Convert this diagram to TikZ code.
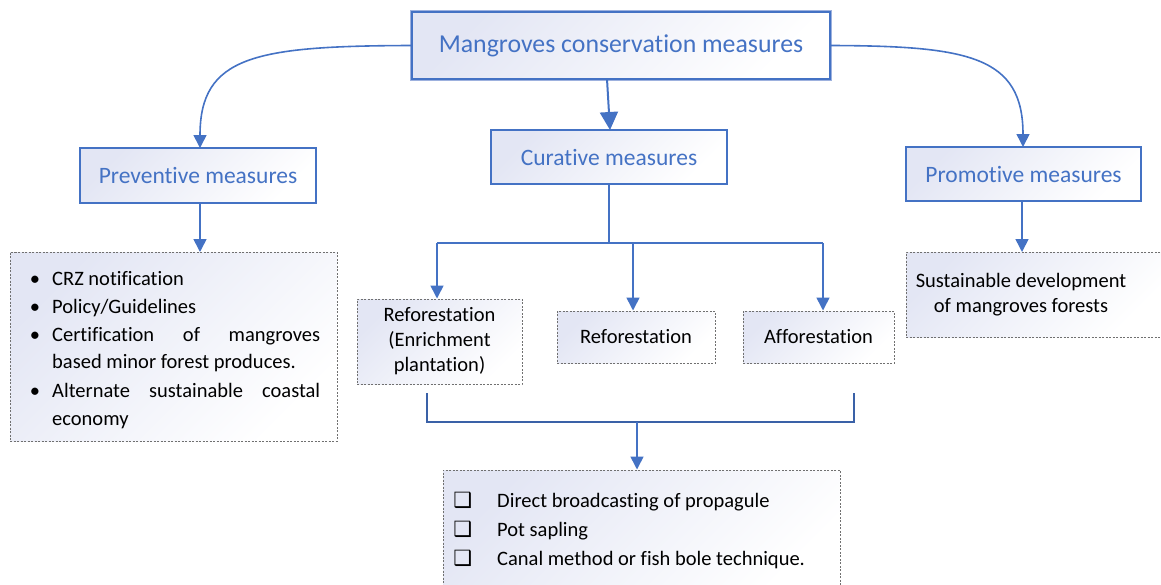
\documentclass[tikz,border=0pt]{standalone}
\usepackage{fontspec}
\setmainfont{Carlito}[Ligatures={NoCommon}]
\newfontfamily\symfont{DejaVu Sans}
\usetikzlibrary{arrows.meta}
\definecolor{mblue}{HTML}{4472C4}
\definecolor{mlblue}{HTML}{9DB1DE}
\definecolor{mlav}{HTML}{E3E6F4}
\definecolor{mgray}{HTML}{707070}
\tikzset{
  shadefill/.style={top color=mlav, bottom color=white, shading angle=45},
  headbox/.style={draw=mblue, line width=1.2pt, shadefill, text=mblue,
    font=\fontsize{23.5}{28}\selectfont, inner sep=0pt},
  dashbox/.style={draw=mgray, line width=1pt, dash pattern=on 2pt off 1.5pt,
    shadefill, inner sep=0pt, font=\fontsize{20.5}{25}\selectfont, align=center},
  link/.style={draw=mblue, line width=1.6pt, -{Triangle[width=13pt,length=13pt]}},
  bigl/.style={draw=mblue, line width=2pt, -{Triangle[width=18pt,length=18pt]}},
  plain/.style={draw=mblue, line width=1.6pt},
  bracket/.style={draw=mblue!85!black, line width=1.3pt},
  body/.style={font=\fontsize{20.5}{25}\selectfont, inner sep=0pt, anchor=base west},
}
\newcommand{\chkbox}{\llap{{\symfont\fontsize{21}{21}\selectfont ❑}\hspace{25pt}}}
\begin{document}
\begin{tikzpicture}[x=1pt,y=-1pt]
\useasboundingbox (0,0) rectangle (1161,584);
% boxes
\node[headbox, minimum width=418pt, minimum height=67pt, line width=2pt,
  preaction={draw=mlblue, line width=4pt}, font=\fontsize{25.8}{30}\selectfont]
  (top) at (621,45.5) {Mangroves conservation measures};
\node[headbox, minimum width=236pt, minimum height=55pt] (prev) at (198,175.5) {Preventive measures};
\node[headbox, minimum width=236pt, minimum height=54pt] (cur) at (609,157) {Curative measures};
\node[headbox, minimum width=235pt, minimum height=54pt] (prom) at (1023.5,174) {Promotive measures};

\node[dashbox, minimum width=327pt, minimum height=189pt] (list) at (173.5,346.5) {};
\node[dashbox, minimum width=256pt, minimum height=85pt] (sub) at (1034,294.5) {};
\node[dashbox, draw=none, top color=white, bottom color=white, fill opacity=0, text opacity=1] (subt) at (1021,295)
  {Sustainable development\\of mangroves forests};
\node[dashbox, minimum width=165pt, minimum height=85pt] (r1) at (439.5,341.5)
  {Reforestation\\(Enrichment\\plantation)};
\node[dashbox, minimum width=158pt, minimum height=52pt] (r2) at (636,337) {Reforestation};
\node[dashbox, minimum width=151pt, minimum height=52pt] (aff) at (818.5,337) {Afforestation};
\node[dashbox, minimum width=397pt, minimum height=124pt] (bot) at (641.5,532) {};

% list text
\node[body] (l1) at (52,285) {\llap{\textbullet\hspace{12pt}}CRZ notification};
\node[body] (l2) at (52,313) {\llap{\textbullet\hspace{12pt}}Policy/Guidelines};
\node[body] (l3) at (52,341) {\llap{\textbullet\hspace{12pt}}\makebox[268pt][s]{Certification of mangroves}};
\node[body] (l4) at (52,368) {based minor forest produces.};
\node[body] (l5) at (52,397) {\llap{\textbullet\hspace{12pt}}\makebox[268pt][s]{Alternate sustainable coastal}};
\node[body] (l6) at (52,425) {economy};

% bottom list
\node[body] (b1) at (497,507) {\chkbox Direct broadcasting of propagule};
\node[body] (b2) at (497,536) {\chkbox Pot sapling};
\node[body] (b3) at (497,565) {\chkbox Canal method or fish bole technique.};

% connectors
\coordinate (ts) at (607,79);
\coordinate (te) at (610,130);
\draw[bigl] (ts) -- (te);
\coordinate (pl) at (200,148);
\coordinate (pr) at (1023,147);
\draw[link] (top.west) .. controls (255,46) and (200,56) .. (pl);
\draw[link] (top.east) .. controls (968,46) and (1023,56) .. (pr);
\draw[link] (prev.south -| 200,0) -- (200,252);
\draw[link] (prom.south -| 1022,0) -- (1022,252);

\coordinate (cj) at (609,243);
\coordinate (j1) at (437,243);
\coordinate (j2) at (633,243);
\coordinate (j3) at (823,243);
\draw[plain] (cur.south) -- (cj);
\draw[plain] (j1) -- (j3);
\draw[link] (j1) -- (j1 |- r1.north);
\draw[link] (j2) -- (j2 |- r2.north);
\draw[link] (j3) -- (j3 |- aff.north);

\coordinate (k1) at (427,393);
\coordinate (k2) at (427,422);
\coordinate (k3) at (854,422);
\coordinate (k4) at (854,393);
\coordinate (km) at (637,422);
\draw[bracket] (k1) -- (k2) -- (k3) -- (k4);
\draw[link] (km) -- (km |- bot.north);
\end{tikzpicture}
\end{document}
